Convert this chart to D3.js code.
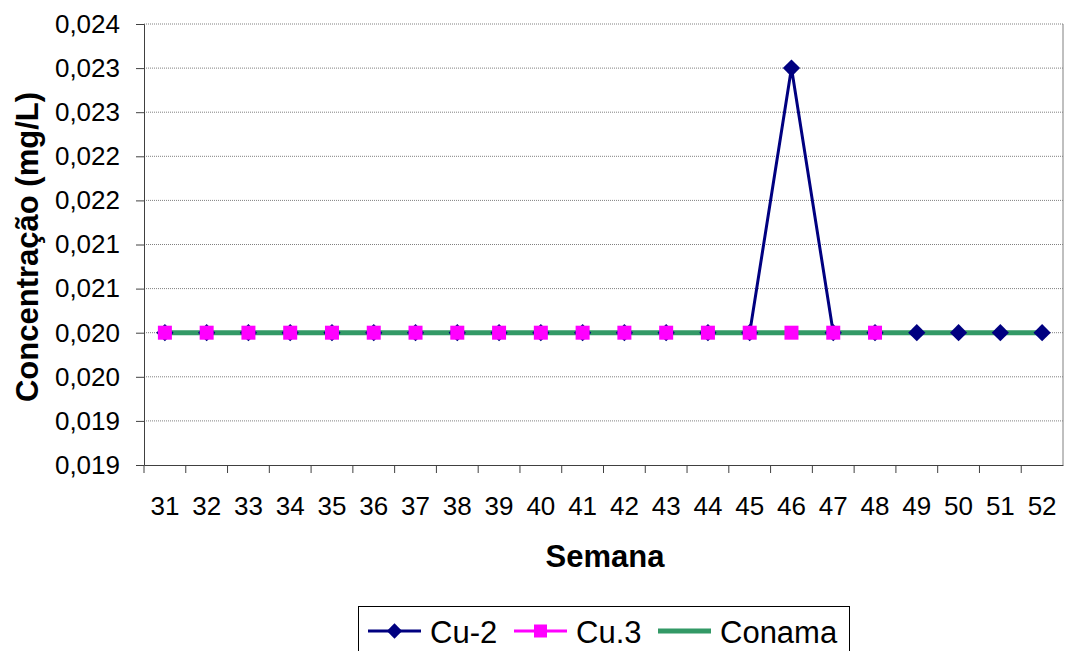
<!DOCTYPE html>
<html>
<head>
<meta charset="utf-8">
<script src="https://cdn.jsdelivr.net/npm/d3@7"></script>
<style>
  body { margin: 0; background: #fff; }
  text { font-family: "Liberation Sans", Arial, sans-serif; fill: #000; }
</style>
</head>
<body>
<div id="chart"></div>
<script>
// data
var semanas = [31, 32, 33, 34, 35, 36, 37, 38, 39, 40, 41, 42, 43, 44, 45, 46, 47, 48, 49, 50, 51, 52];
var cu2 = [0.020, 0.020, 0.020, 0.020, 0.020, 0.020, 0.020, 0.020, 0.020, 0.020, 0.020, 0.020, 0.020, 0.020, 0.020, 0.023, 0.020, 0.020, 0.020, 0.020, 0.020, 0.020];
var cu3 = [0.020, 0.020, 0.020, 0.020, 0.020, 0.020, 0.020, 0.020, 0.020, 0.020, 0.020, 0.020, 0.020, 0.020, 0.020, 0.020, 0.020, 0.020];
var conama = [0.020, 0.020, 0.020, 0.020, 0.020, 0.020, 0.020, 0.020, 0.020, 0.020, 0.020, 0.020, 0.020, 0.020, 0.020, 0.020, 0.020, 0.020, 0.020, 0.020, 0.020, 0.020];
var yTicks = [0.0185, 0.019, 0.0195, 0.020, 0.0205, 0.021, 0.0215, 0.022, 0.0225, 0.023, 0.0235];
var yTickLabels = ["0,019", "0,019", "0,020", "0,020", "0,021", "0,021", "0,022", "0,022", "0,023", "0,023", "0,024"];

var width = 1065
var height = 651
var margin = { top: 24, right: 2, bottom: 186, left: 144 }

var svg = d3.select("#chart")
    .append("svg")
    .attr("width", width)
    .attr("height", height);

var x = d3.scaleBand()
    .domain(semanas)
    .range([margin.left, width - margin.right]);

var y = d3.scaleLinear()
    .domain([0.0185, 0.0235])
    .range([height - margin.bottom, margin.top]);

// gridlines
svg.append("g")
    .selectAll("line")
    .data(yTicks.slice(1))
    .enter()
    .append("line")
    .attr("x1", margin.left)
    .attr("x2", width - margin.right)
    .attr("y1", d => y(d))
    .attr("y2", d => y(d))
    .attr("stroke", "#808080")
    .attr("stroke-width", 1)
    .attr("stroke-dasharray", "1,1");

// right border
svg.append("line")
    .attr("x1", width - margin.right)
    .attr("x2", width - margin.right)
    .attr("y1", margin.top)
    .attr("y2", height - margin.bottom)
    .attr("stroke", "#808080");

// y axis
var yAxis = svg.append("g")
    .attr("transform", "translate(" + margin.left + ",0)")
    .call(d3.axisLeft(y)
        .tickValues(yTicks)
        .tickSize(8)
        .tickPadding(16)
        .tickFormat((d, i) => yTickLabels[i]));
yAxis.selectAll("text").style("font-size", "26px");
yAxis.selectAll("line, path").attr("stroke", "#404040");

// x axis
var xAxis = svg.append("g")
    .attr("transform", "translate(0," + (height - margin.bottom) + ")")
    .call(d3.axisBottom(x).tickSize(0).tickPadding(30));
xAxis.selectAll("text").style("font-size", "26px").attr("dy", null).attr("y", 50);
xAxis.select("path").attr("stroke", "#404040");
xAxis.selectAll(".sep")
    .data(semanas)
    .enter()
    .append("line")
    .attr("class", "sep")
    .attr("x1", d => x(d))
    .attr("x2", d => x(d))
    .attr("y1", 0)
    .attr("y2", 8)
    .attr("stroke", "#404040");

var cx = d => x(d) + x.bandwidth() / 2;
var line = d3.line()
    .x((d, i) => cx(semanas[i]))
    .y(d => y(d));

// lines
svg.append("path").datum(cu2).attr("d", line)
    .attr("fill", "none").attr("stroke", "#000080").attr("stroke-width", 3);
svg.append("path").datum(cu3).attr("d", line)
    .attr("fill", "none").attr("stroke", "#FF00FF").attr("stroke-width", 3);
svg.append("path").datum(conama).attr("d", line)
    .attr("fill", "none").attr("stroke", "#339966").attr("stroke-width", 5);

// markers
svg.selectAll(".dia")
    .data(cu2)
    .enter()
    .append("path")
    .attr("class", "dia")
    .attr("d", d3.symbol().type(d3.symbolDiamond2).size(190))
    .attr("transform", (d, i) => "translate(" + cx(semanas[i]) + "," + y(d) + ")")
    .attr("fill", "#000080");

svg.selectAll(".sq")
    .data(cu3)
    .enter()
    .append("rect")
    .attr("class", "sq")
    .attr("x", (d, i) => cx(semanas[i]) - 7)
    .attr("y", d => y(d) - 7)
    .attr("width", 14)
    .attr("height", 14)
    .attr("fill", "#FF00FF");

// axis titles
svg.append("text")
    .attr("x", 605)
    .attr("y", 567)
    .attr("text-anchor", "middle")
    .style("font-size", "31px")
    .style("font-weight", "bold")
    .text("Semana");

svg.append("text")
    .attr("transform", "translate(38,247) rotate(-90)")
    .attr("text-anchor", "middle")
    .style("font-size", "31px")
    .style("font-weight", "bold")
    .text("Concentração (mg/L)");

// legend
var legend = svg.append("g");
legend.append("rect")
    .attr("x", 358.5)
    .attr("y", 606.5)
    .attr("width", 491)
    .attr("height", 50)
    .attr("fill", "#fff")
    .attr("stroke", "#000");

var items = [
    { name: "Cu-2", color: "#000080", x: 368, w: 3, mark: "dia" },
    { name: "Cu.3", color: "#FF00FF", x: 514, w: 3, mark: "sq" },
    { name: "Conama", color: "#339966", x: 658, w: 5, mark: null }
];
var ly = 631;
items.forEach(it => {
    legend.append("line")
        .attr("x1", it.x).attr("x2", it.x + 53)
        .attr("y1", ly).attr("y2", ly)
        .attr("stroke", it.color).attr("stroke-width", it.w);
    if (it.mark == "dia") {
        legend.append("path")
            .attr("d", d3.symbol().type(d3.symbolDiamond2).size(150))
            .attr("transform", "translate(" + (it.x + 26.5) + "," + ly + ")")
            .attr("fill", it.color);
    } else if (it.mark == "sq") {
        legend.append("rect")
            .attr("x", it.x + 20).attr("y", ly - 6.5)
            .attr("width", 13).attr("height", 13)
            .attr("fill", it.color);
    }
    legend.append("text")
        .attr("x", it.x + 62)
        .attr("y", 643)
        .style("font-size", "31px")
        .text(it.name);
});
</script>
</body>
</html>
